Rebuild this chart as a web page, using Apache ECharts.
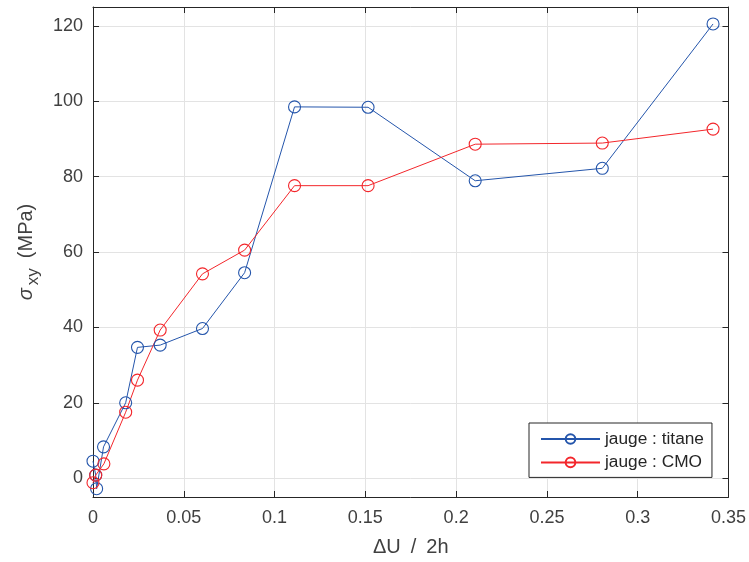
<!DOCTYPE html>
<html><head><meta charset="utf-8">
<script src="https://cdn.jsdelivr.net/npm/echarts@6/dist/echarts.min.js"></script>
<style>html,body{margin:0;padding:0;background:#fff}#c{width:749px;height:562px}</style>
</head><body><div id="c"></div>
<script>
const titaneX = [0, 0.0015, 0.002, 0.0058, 0.018, 0.0245, 0.037, 0.0603, 0.0835, 0.111, 0.1515, 0.2105, 0.2805, 0.3415];
const titaneY = [4.5, 0.8, -2.8, 8.3, 20, 34.7, 35.3, 39.7, 54.5, 98.5, 98.4, 78.9, 82.2, 120.5];
const cmoX = [0, 0.0015, 0.006, 0.018, 0.0245, 0.037, 0.0603, 0.0835, 0.111, 0.1515, 0.2105, 0.2805, 0.3415];
const cmoY = [-1.2, 0.8, 3.8, 17.5, 26, 39.3, 54.2, 60.5, 77.6, 77.6, 88.6, 88.9, 92.6];
const seriesNames = ['jauge : titane', 'jauge : CMO'];
const xTicks = [0, 0.05, 0.1, 0.15, 0.2, 0.25, 0.3, 0.35];
const yTicks = [0, 20, 40, 60, 80, 100, 120];

const font = 'Liberation Sans, Arial, Helvetica, sans-serif';
const axisCol = '#262626';
const labCol = '#404040';
const gridCol = '#e3e3e3';
const blue = '#2455ab';
const red = '#f3262b';
const chart = echarts.init(document.getElementById('c'));
const zip = (xs, ys) => xs.map((x, i) => [x, ys[i]]);
const baseAxis = {
  axisLine: {show: true, onZero: false, lineStyle: {color: axisCol, width: 1}},
  axisTick: {show: true, inside: true, length: 6, lineStyle: {color: axisCol}},
};
chart.setOption({
  animation: false,
  grid: {left: 93, right: 20, top: 7, bottom: 64, containLabel: false},
  legend: {
    left: 529, top: 423, orient: 'vertical',
    padding: [6, 8, 5, 11],
    itemGap: 3.4, itemWidth: 59, itemHeight: 12,
    borderColor: '#262626', borderWidth: 1, backgroundColor: '#fff',
    textStyle: {fontFamily: font, fontSize: 17.3, lineHeight: 20, color: '#262626'},
    data: seriesNames
  },
  xAxis: [
    Object.assign({}, baseAxis, {
      type: 'value', min: 0, max: 0.35, interval: 0.05, position: 'bottom',
      name: 'ΔU\u2002/\u20022h', nameLocation: 'middle', nameGap: 40,
      nameTextStyle: {fontFamily: font, fontSize: 20, color: labCol},
      axisLabel: {fontFamily: font, fontSize: 18, color: labCol, margin: 12,
        customValues: xTicks},
      splitLine: {show: true, lineStyle: {color: gridCol, width: 1}}
    }),
    Object.assign({}, baseAxis, {
      type: 'value', min: 0, max: 0.35, interval: 0.05, position: 'top',
      axisLabel: {show: false}, splitLine: {show: false}
    })
  ],
  yAxis: [
    Object.assign({}, baseAxis, {
      type: 'value', min: -5, max: 125, interval: 20, position: 'left',
      name: '{s|σ}{sub|xy}{t|\u2002(MPa)}', nameLocation: 'middle', nameGap: 48, nameRotate: 90,
      nameTextStyle: {fontFamily: font, fontSize: 20, color: labCol,
        rich: {
          s: {fontFamily: font, fontSize: 20, fontStyle: 'italic', color: labCol, padding: [0, 3, 0, 0]},
          sub: {fontFamily: font, fontSize: 17, color: labCol, padding: [14, 0, 0, 0]},
          t: {fontFamily: font, fontSize: 20, color: labCol}
        }},
      axisLabel: {fontFamily: font, fontSize: 18, color: labCol, margin: 10,
        customValues: yTicks},
      axisTick: {show: true, inside: true, length: 6, lineStyle: {color: axisCol}, customValues: yTicks},
      splitLine: {show: true, lineStyle: {color: gridCol, width: 1}}
    }),
    Object.assign({}, baseAxis, {
      type: 'value', min: -5, max: 125, interval: 20, position: 'right',
      axisLabel: {show: false}, splitLine: {show: false},
      axisTick: {show: true, inside: true, length: 6, lineStyle: {color: axisCol}, customValues: yTicks}
    })
  ],
  series: [
    {
      name: seriesNames[0], type: 'line', data: zip(titaneX, titaneY),
      symbol: 'circle', symbolSize: 12, showAllSymbol: true,
      lineStyle: {color: blue, width: 1},
      itemStyle: {color: 'rgba(0,0,0,0)', borderColor: blue, borderWidth: 1.1}
    },
    {
      name: seriesNames[1], type: 'line', data: zip(cmoX, cmoY),
      symbol: 'circle', symbolSize: 12, showAllSymbol: true,
      lineStyle: {color: red, width: 1},
      itemStyle: {color: 'rgba(0,0,0,0)', borderColor: red, borderWidth: 1.1}
    }
  ]
});
</script></body></html>
